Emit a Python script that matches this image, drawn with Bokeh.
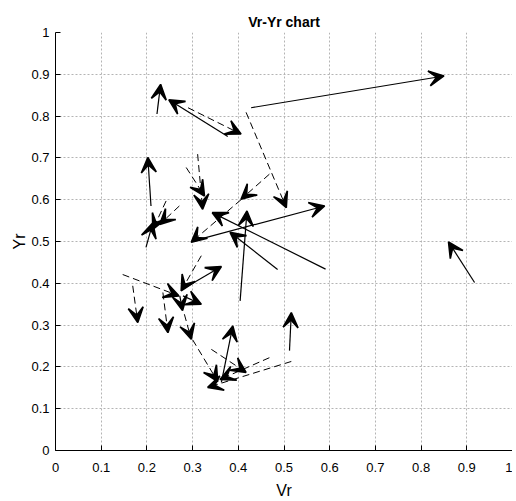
from bokeh.plotting import figure
from bokeh.models import Arrow, VeeHead, ColumnDataSource, FixedTicker, Range1d
from bokeh.embed import file_html
from bokeh.resources import INLINE

# ---- data ----
ticks = [0, 0.1, 0.2, 0.3, 0.4, 0.5, 0.6, 0.7, 0.8, 0.9, 1]
tick_labels = ["0", "0.1", "0.2", "0.3", "0.4", "0.5", "0.6", "0.7", "0.8", "0.9", "1"]

# solid arrows: start (x0, y0) -> end (x1, y1)
solid_x0 = [0.428, 0.222, 0.377, 0.209, 0.198, 0.591, 0.486, 0.404, 0.300, 0.275, 0.279, 0.272, 0.363, 0.512, 0.917]
solid_y0 = [0.820, 0.805, 0.751, 0.585, 0.486, 0.434, 0.433, 0.358, 0.501, 0.384, 0.370, 0.370, 0.163, 0.239, 0.402]
solid_x1 = [0.850, 0.230, 0.248, 0.202, 0.213, 0.343, 0.382, 0.419, 0.589, 0.363, 0.319, 0.278, 0.388, 0.516, 0.860]
solid_y1 = [0.896, 0.876, 0.839, 0.701, 0.545, 0.569, 0.522, 0.573, 0.585, 0.440, 0.350, 0.335, 0.298, 0.330, 0.499]

# dashed arrows
dash_x0 = [0.290, 0.417, 0.468, 0.311, 0.286, 0.242, 0.271, 0.406, 0.319, 0.147, 0.169, 0.235, 0.282, 0.300, 0.341, 0.516, 0.468]
dash_y0 = [0.820, 0.809, 0.661, 0.709, 0.677, 0.597, 0.585, 0.600, 0.466, 0.421, 0.394, 0.378, 0.326, 0.265, 0.242, 0.213, 0.222]
dash_x1 = [0.406, 0.505, 0.406, 0.322, 0.326, 0.213, 0.228, 0.297, 0.275, 0.270, 0.180, 0.246, 0.297, 0.355, 0.417, 0.333, 0.360]
dash_y1 = [0.757, 0.581, 0.601, 0.577, 0.609, 0.529, 0.541, 0.498, 0.382, 0.370, 0.306, 0.282, 0.266, 0.165, 0.187, 0.151, 0.170]

FONT = "Liberation Sans"

p = figure(frame_width=457, frame_height=418, output_backend="svg", toolbar_location=None,
           x_range=Range1d(0, 1), y_range=Range1d(0, 1),
           min_border_left=0, min_border_right=0, min_border_bottom=0, min_border_top=0,
           margin=(8, 0, 0, 8))

p.title.text = "Vr-Yr chart"
p.title.align = "center"
p.title.text_font = FONT
p.title.text_font_size = "14px"
p.title.text_font_style = "bold"
p.title.text_color = "#000000"
p.title.standoff = 6
p.title.offset = 0

p.outline_line_color = None
p.background_fill_color = "white"
p.border_fill_color = "white"

for ax in (p.xaxis[0], p.yaxis[0]):
    ax.ticker = FixedTicker(ticks=ticks)
    ax.major_label_overrides = {t: l for t, l in zip(ticks, tick_labels)}
    ax.major_tick_in = 5
    ax.major_tick_out = 0
    ax.minor_tick_in = 0
    ax.minor_tick_out = 0
    ax.axis_line_color = "#000000"
    ax.major_tick_line_color = "#000000"
    ax.major_label_text_font = FONT
    ax.major_label_text_font_size = "13px"
    ax.major_label_text_color = "#000000"
    ax.axis_label_text_font = FONT
    ax.axis_label_text_font_size = "16px"
    ax.axis_label_text_font_style = "normal"
    ax.axis_label_text_color = "#000000"

p.xaxis.major_label_standoff = 12
p.yaxis.major_label_standoff = 6
p.xaxis.axis_label = "Vr"
p.yaxis.axis_label = "Yr"
p.xaxis.axis_label_standoff = 7
p.yaxis.axis_label_standoff = 0
p.yaxis.major_label_orientation = "horizontal"

p.xgrid.ticker = FixedTicker(ticks=ticks)
p.ygrid.ticker = FixedTicker(ticks=ticks)
for g in (p.xgrid[0], p.ygrid[0]):
    g.grid_line_color = "#b4b4b4"
    g.grid_line_dash = "2 2"
    g.grid_line_width = 1

solid_src = ColumnDataSource(dict(x0=solid_x0, y0=solid_y0, x1=solid_x1, y1=solid_y1))
dash_src = ColumnDataSource(dict(x0=dash_x0, y0=dash_y0, x1=dash_x1, y1=dash_y1))

p.add_layout(Arrow(source=solid_src, x_start="x0", y_start="y0", x_end="x1", y_end="y1",
                   line_color="black", line_width=1.2,
                   end=VeeHead(size=15, fill_color="black", line_color="black", line_width=1.6)))
p.add_layout(Arrow(source=dash_src, x_start="x0", y_start="y0", x_end="x1", y_end="y1",
                   line_color="black", line_width=1, line_dash="7 4",
                   end=VeeHead(size=15, fill_color="black", line_color="black", line_width=1.6)))

open("out.html", "w").write(file_html(p, INLINE))
